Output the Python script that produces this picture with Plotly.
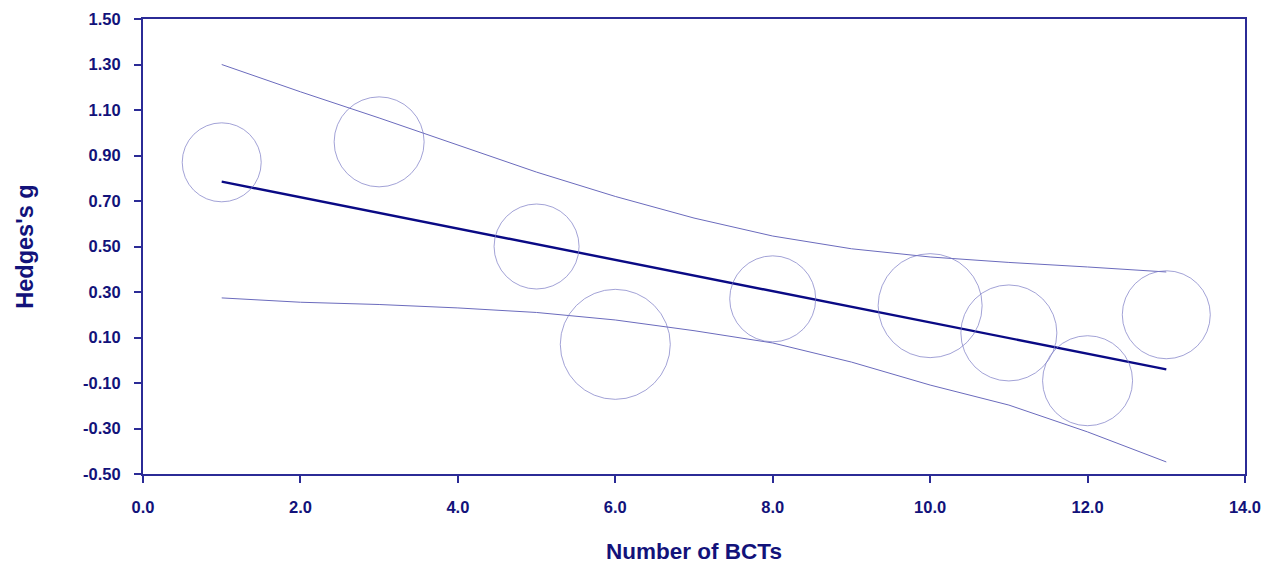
import plotly.graph_objects as go

# Study-level data (bubbles)
bcts = [1, 3, 5, 6, 8, 10, 11, 12, 13]
hedges_g = [0.87, 0.96, 0.50, 0.07, 0.27, 0.24, 0.12, -0.09, 0.20]
weights = [79, 90, 85, 110, 86, 104, 96, 90, 88]  # bubble diameters (relative weight)

# Regression line
reg_x = [1, 13]
reg_y = [0.785, -0.04]

# Confidence band
ci_x = [1, 2, 3, 4, 5, 6, 7, 8, 9, 10, 11, 12, 13]
ci_upper = [1.30, 1.18, 1.065, 0.946, 0.827, 0.72, 0.625, 0.546, 0.49, 0.454, 0.43, 0.41, 0.388]
ci_lower = [0.274, 0.255, 0.245, 0.23, 0.21, 0.177, 0.13, 0.076, -0.008, -0.109, -0.197, -0.315, -0.447]

# Tick labels
x_tickvals = [0, 2, 4, 6, 8, 10, 12, 14]
x_ticktext = ["0.0", "2.0", "4.0", "6.0", "8.0", "10.0", "12.0", "14.0"]
y_tickvals = [-0.5, -0.3, -0.1, 0.1, 0.3, 0.5, 0.7, 0.9, 1.1, 1.3, 1.5]
y_ticktext = ["-0.50", "-0.30", "-0.10", "0.10", "0.30", "0.50", "0.70", "0.90", "1.10", "1.30", "1.50"]

axis_col = "#2b2b96"
text_col = "#12127a"
band_col = "#6b6bbd"

fig = go.Figure()
fig.add_trace(go.Scatter(x=ci_x, y=ci_upper, mode="lines",
                         line=dict(color=band_col, width=1), showlegend=False, hoverinfo="skip"))
fig.add_trace(go.Scatter(x=ci_x, y=ci_lower, mode="lines",
                         line=dict(color=band_col, width=1), showlegend=False, hoverinfo="skip"))
fig.add_trace(go.Scatter(x=reg_x, y=reg_y, mode="lines",
                         line=dict(color="#0a0a85", width=2.4), showlegend=False))
fig.add_trace(go.Scatter(x=bcts, y=hedges_g, mode="markers",
                         marker=dict(symbol="circle-open", size=weights, sizemode="diameter",
                                     color="#7a7ac4", line=dict(width=1, color="#7a7ac4")),
                         showlegend=False))

font_family = "Liberation Sans, Arial, sans-serif"
fig.update_layout(
    width=1274, height=563,
    margin=dict(l=135, r=37, t=11, b=97),
    plot_bgcolor="white", paper_bgcolor="white",
    font=dict(family=font_family, color=text_col),
    xaxis=dict(range=[0, 14], tickmode="array", tickvals=x_tickvals, ticktext=x_ticktext,
               automargin=False,
               showline=True, linecolor=axis_col, linewidth=2, mirror=True,
               ticks="outside", ticklen=7, tickcolor=axis_col, tickwidth=2,
               showgrid=False, zeroline=False, ticklabelstandoff=10,
               tickfont=dict(size=16.5, family=font_family, color=text_col, weight="bold"),
               title=dict(text="<b>Number of BCTs</b>", font=dict(size=22.5, color=text_col),
                          standoff=28)),
    yaxis=dict(range=[-0.5, 1.5], tickmode="array", tickvals=y_tickvals, ticktext=y_ticktext,
               automargin=False,
               showline=True, linecolor=axis_col, linewidth=2, mirror=True,
               ticks="outside", ticklen=7, tickcolor=axis_col, tickwidth=2,
               showgrid=False, zeroline=False, ticklabelstandoff=10,
               tickfont=dict(size=16.5, family=font_family, color=text_col, weight="bold"),
               title=dict(text="<b>Hedges's g</b>", font=dict(size=23.5, color=text_col),
                          standoff=43)),
)

fig.write_html("out.html")
